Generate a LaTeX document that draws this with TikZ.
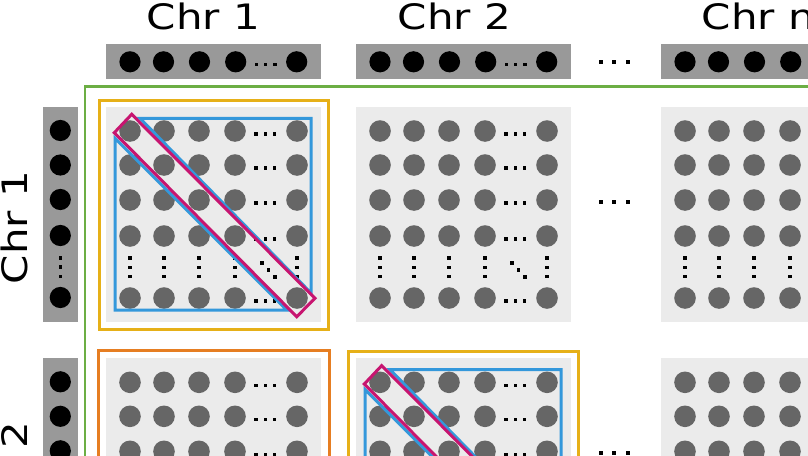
\documentclass[tikz,border=0pt]{standalone}
\usepackage{fontspec}
\newfontfamily\lblfont{DejaVu Sans}
\definecolor{panelgray}{RGB}{235,235,235}
\definecolor{circgray}{RGB}{102,102,102}
\definecolor{bargray}{RGB}{153,153,153}
\definecolor{greenc}{RGB}{108,174,68}
\definecolor{yellowc}{RGB}{230,176,24}
\definecolor{orangec}{RGB}{230,126,34}
\definecolor{bluec}{RGB}{52,152,219}
\definecolor{magc}{RGB}{199,21,112}
\newcommand\sdot[2]{\fill[black] ({#1-1.7},{#2-1.7}) rectangle ++(3.4,3.4);}
\newcommand\bdot[2]{\fill[black] ({#1-2},{#2-2}) rectangle ++(4,4);}
\newcommand\drawpanel[2]{%
  \fill[panelgray] (#1,#2) rectangle ++(215,215);
  \foreach \cx in {24,58,93,129,191}{\foreach \cy in {24,58,93,129,191}{\fill[circgray] ({#1+\cx},{#2+\cy}) circle[radius=10.8];}}
  \foreach \c in {24,58,93,129,191}{\foreach \d in {150,159.3,168.6}{\sdot{#1+\d}{#2+\c+3}\sdot{#1+\c}{#2+\d+1}}}
  \sdot{#1+156}{#2+156}\sdot{#1+162.5}{#2+163}\sdot{#1+169}{#2+170}%
}
\newcommand\topbar[1]{%
  \fill[bargray] (#1,44.3) rectangle ++(215,35);
  \foreach \c in {24,57.5,93.5,129.7,190.7}{\fill[black] ({#1+\c},61.8) circle[radius=10.6];}
  \foreach \d in {150.7,159.7,169}{\sdot{#1+\d}{64.5}}%
}
\newcommand\sidebar[1]{%
  \fill[bargray] (43,#1) rectangle ++(34.7,215);
  \foreach \c in {23.5,58,92.5,128.5,190.5}{\fill[black] (60.3,{#1+\c}) circle[radius=10.6];}
  \foreach \d in {151,160,169.5}{\sdot{60.3}{#1+\d}}%
}
\newcommand\diagmark[2]{%
  \draw[blueline] ({#1+34},{#2+11.3}) -- ({#1+205},{#2+11.3}) -- ({#1+205},{#2+186}) -- cycle;
  \draw[blueline] ({#1+9},{#2+31.3}) -- ({#1+9},{#2+203}) -- ({#1+180.7},{#2+203}) -- cycle;
  \draw[magline] ({#1+25.7},{#2+7.3}) -- ({#1+8.3},{#2+25.7}) -- ({#1+190.7},{#2+209.7}) -- ({#1+209},{#2+191.3}) -- cycle;
}
\begin{document}
\begin{tikzpicture}[x=1pt,y=-1pt,
  lbl/.style={font=\lblfont\fontsize{35}{40}\selectfont, inner sep=0pt, anchor=base},
  blueline/.style={draw=bluec, line width=3pt},
  magline/.style={draw=magc, line width=3pt},
  yframe/.style={draw=yellowc, line width=3pt},
  oframe/.style={draw=orangec, line width=3pt},
  greenline/.style={draw=greenc, line width=2.5pt}]
\useasboundingbox (0,0) rectangle (808,455);
\clip (0,0) rectangle (808,455);
\fill[white] (0,0) rectangle (808,455);
% column labels
\node[lbl, xscale=1.2] (c1) at (203.5,29.3) {Chr 1};
\node[lbl, xscale=1.2] (c2) at (454.5,29.3) {Chr 2};
\node[lbl, xscale=1.2] (cn) at (758.5,29.3) {Chr n};
% row labels
\node[lbl, rotate=90, xscale=1.2] (r1) at (27.5,227.4) {Chr 1};
\node[lbl, rotate=90, xscale=1.2] (r2) at (27.5,478.4) {Chr 2};
% bars
\topbar{106}\topbar{356}\topbar{661}
\sidebar{107}\sidebar{358.3}
\foreach \y in {62,201.7,452.5}{\foreach \x in {601,614.3,627.7}{\bdot{\x}{\y}}}
% green L
\draw[greenline] (820,86.7) -- (85,86.7) -- (85,470);
% panels
\drawpanel{106}{107}\drawpanel{356}{107}\drawpanel{661}{107}
\drawpanel{106}{358.3}\drawpanel{356}{358.3}\drawpanel{661}{358.3}
\diagmark{106}{107}
\diagmark{356}{358.3}
% frames
\draw[yframe] (99,100.5) rectangle (328,329);
\draw[yframe] (348.7,351.7) rectangle (578,580);
\draw[oframe] (98,350) rectangle (329,580);
\end{tikzpicture}
\end{document}
